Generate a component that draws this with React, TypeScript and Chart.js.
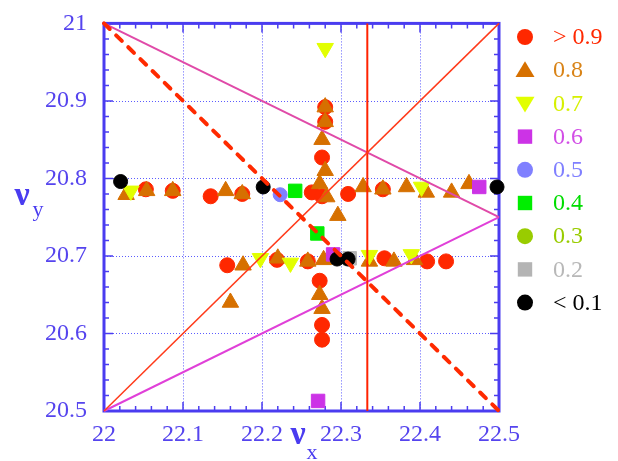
import React, { useEffect, useRef } from 'react';
import { Chart, registerables } from 'chart.js';

Chart.register(...registerables);

// ---- axis ticks ----
const xTicks = [22, 22.1, 22.2, 22.3, 22.4, 22.5];
const yTicks = [20.5, 20.6, 20.7, 20.8, 20.9, 21];

// ---- data series (nu_x, nu_y) by survival fraction ----
const redX = [22.053, 22.087, 22.135, 22.175, 22.263, 22.276, 22.309, 22.353, 22.28, 22.28, 22.276, 22.156, 22.219, 22.258, 22.273, 22.276, 22.276, 22.355, 22.409, 22.433];
const redY = [20.786, 20.784, 20.777, 20.78, 20.782, 20.777, 20.78, 20.786, 20.892, 20.873, 20.827, 20.688, 20.695, 20.693, 20.668, 20.611, 20.592, 20.697, 20.693, 20.693];

const orangeX = [22.028, 22.054, 22.087, 22.154, 22.175, 22.28, 22.28, 22.276, 22.28, 22.273, 22.282, 22.296, 22.328, 22.353, 22.383, 22.408, 22.44, 22.462, 22.16, 22.176, 22.22, 22.258, 22.278, 22.273, 22.276, 22.336, 22.367, 22.393];
const orangeY = [20.779, 20.784, 20.784, 20.784, 20.78, 20.892, 20.873, 20.85, 20.81, 20.793, 20.776, 20.752, 20.789, 20.786, 20.789, 20.782, 20.782, 20.793, 20.64, 20.688, 20.697, 20.693, 20.695, 20.65, 20.632, 20.693, 20.693, 20.695];

const yellowX = [22.034, 22.28, 22.198, 22.236, 22.336, 22.389, 22.402];
const yellowY = [20.784, 20.968, 20.697, 20.691, 20.701, 20.702, 20.789];

const purpleX = [22.475, 22.29, 22.271];
const purpleY = [20.789, 20.702, 20.513];

const blueX = [22.223];
const blueY = [20.779];

const greenX = [22.242, 22.27];
const greenY = [20.784, 20.729];

const oliveX: number[] = [];
const oliveY: number[] = [];

const grayX = [22.311];
const grayY = [20.697];

const blackX = [22.021, 22.2015, 22.4975, 22.295, 22.309];
const blackY = [20.796, 20.789, 20.789, 20.696, 20.696];

// ---- resonance lines ----
const diffLineX = [22, 22.5];
const diffLineY = [20.5, 21];
const sumLineX = [22, 22.5];
const sumLineY = [21, 20.5];
const thirdLineX = [22.3333, 22.3333];
const thirdLineY = [20.5, 21];
const magUpperX = [22, 22.5];
const magUpperY = [21, 20.75];
const magLowerX = [22, 22.5];
const magLowerY = [20.5, 20.75];

// ---- legend ----
const legendLabels = ['> 0.9', '0.8', '0.7', '0.6', '0.5', '0.4', '0.3', '0.2', '< 0.1'];
const legendColors = ['#ff2800', '#d67000', '#e2ff00', '#cc33e6', '#8080ff', '#00ee00', '#99cc00', '#b4b4b4', '#000000'];
const legendTextColors = ['#ff2800', '#d98418', '#d6f000', '#d24ee6', '#8080ff', '#00dd00', '#99cc00', '#b8b8b8', '#000000'];
const legendShapes = ['circle', 'triangle', 'down', 'square', 'circle', 'square', 'circle', 'square', 'circle'];

const AXIS_BLUE = '#4a3cf0';
const LABEL_BLUE = '#5544ee';
const GRID_BLUE = '#5c5cff';
const SERIF = "'Liberation Serif', 'Times New Roman', serif";

const pts = (xs: number[], ys: number[]) => xs.map((v, i) => ({ x: v, y: ys[i] }));

function drawMarker(ctx: CanvasRenderingContext2D, shape: string, x: number, y: number, r: number, color: string) {
  ctx.save();
  ctx.fillStyle = color;
  ctx.beginPath();
  if (shape === 'circle') {
    ctx.arc(x, y, r, 0, Math.PI * 2);
  } else if (shape === 'triangle' || shape === 'down') {
    const s = shape === 'down' ? -1 : 1;
    const h = r * 0.95;
    ctx.moveTo(x, y - s * h);
    ctx.lineTo(x + r, y + s * h * 0.75);
    ctx.lineTo(x - r, y + s * h * 0.75);
    ctx.closePath();
  } else {
    ctx.rect(x - r * 0.8, y - r * 0.8, r * 1.6, r * 1.6);
  }
  ctx.fill();
  ctx.restore();
}

const decorPlugin = {
  id: 'decor',
  beforeDatasetsDraw(chart: any) {
    const { ctx, chartArea: a, scales } = chart;
    const xs = scales.x;
    const ys = scales.y;
    ctx.save();
    // dotted grid
    ctx.strokeStyle = GRID_BLUE;
    ctx.lineWidth = 1;
    ctx.setLineDash([1, 2]);
    xTicks.slice(1, -1).forEach((v) => {
      const px = Math.round(xs.getPixelForValue(v)) + 0.5;
      ctx.beginPath();
      ctx.moveTo(px, a.top);
      ctx.lineTo(px, a.bottom);
      ctx.stroke();
    });
    yTicks.slice(1, -1).forEach((v) => {
      const py = Math.round(ys.getPixelForValue(v)) + 0.5;
      ctx.beginPath();
      ctx.moveTo(a.left, py);
      ctx.lineTo(a.right, py);
      ctx.stroke();
    });
    ctx.setLineDash([]);
    // inner ticks on all four sides
    ctx.strokeStyle = AXIS_BLUE;
    ctx.lineWidth = 1.5;
    for (let i = 0; i <= 25; i++) {
      const v = 22 + i * 0.02;
      const major = i % 5 === 0;
      const len = major ? 9 : 5;
      const px = xs.getPixelForValue(v);
      ctx.beginPath();
      ctx.moveTo(px, a.bottom);
      ctx.lineTo(px, a.bottom - len);
      ctx.moveTo(px, a.top);
      ctx.lineTo(px, a.top + len);
      ctx.stroke();
    }
    for (let i = 0; i <= 25; i++) {
      const v = 20.5 + i * 0.02;
      const major = i % 5 === 0;
      const len = major ? 9 : 5;
      const py = ys.getPixelForValue(v);
      ctx.beginPath();
      ctx.moveTo(a.left, py);
      ctx.lineTo(a.left + len, py);
      ctx.moveTo(a.right, py);
      ctx.lineTo(a.right - len, py);
      ctx.stroke();
    }
    // frame
    ctx.lineWidth = 3;
    ctx.strokeRect(a.left, a.top, a.right - a.left, a.bottom - a.top);
    ctx.restore();
  },
  afterDraw(chart: any) {
    const { ctx } = chart;
    ctx.save();
    // axis titles
    ctx.fillStyle = AXIS_BLUE;
    ctx.textBaseline = 'alphabetic';
    ctx.textAlign = 'center';
    ctx.font = `bold 34px ${SERIF}`;
    ctx.fillText('ν', 22, 205);
    ctx.font = `22px ${SERIF}`;
    ctx.fillText('y', 38, 216);
    ctx.font = `bold 34px ${SERIF}`;
    ctx.fillText('ν', 298, 444);
    ctx.font = `22px ${SERIF}`;
    ctx.fillText('x', 312, 459);
    // legend
    ctx.textAlign = 'left';
    ctx.textBaseline = 'middle';
    ctx.font = `24px ${SERIF}`;
    legendLabels.forEach((lab, i) => {
      const cy = 37 + i * 33.2;
      const shape = legendShapes[i];
      const r = shape === 'circle' ? 8 : shape === 'square' ? 9 : 9.5;
      drawMarker(ctx, shape, 525, cy, r, legendColors[i]);
      ctx.fillStyle = legendTextColors[i];
      ctx.fillText(lab, 553, cy + 1);
    });
    ctx.restore();
  },
};

export default function App() {
  const ref = useRef<HTMLCanvasElement>(null);
  useEffect(() => {
    const lineDs = (xs: number[], ys: number[], color: string, width: number, dash: number[] = []) => ({
      data: pts(xs, ys),
      showLine: true,
      borderColor: color,
      borderWidth: width,
      borderDash: dash,
      borderCapStyle: dash.length ? 'round' : 'butt',
      pointRadius: 0,
      fill: false,
      order: 0,
      clip: false,
    });
    const markDs = (xs: number[], ys: number[], color: string, style: string, r: number, order: number, rot = 0) => ({
      data: pts(xs, ys),
      showLine: false,
      backgroundColor: color,
      borderColor: color,
      borderWidth: 1,
      pointStyle: style,
      pointRotation: rot,
      pointRadius: r,
      order,
      clip: false,
    });
    const chart = new Chart(ref.current as HTMLCanvasElement, {
      type: 'scatter',
      data: {
        datasets: [
          lineDs(sumLineX, sumLineY, '#ff2a00', 4, [8, 9]),
          lineDs(diffLineX, diffLineY, '#ff3a1a', 1.5),
          lineDs(thirdLineX, thirdLineY, '#ff2200', 2),
          lineDs(magUpperX, magUpperY, '#e04aa8', 2),
          lineDs(magLowerX, magLowerY, '#e040d8', 2),
          markDs(blackX, blackY, '#000000', 'circle', 7, 1),
          markDs(grayX, grayY, '#b4b4b4', 'rect', 9.5, 2),
          markDs(oliveX, oliveY, '#99cc00', 'circle', 7, 3),
          markDs(greenX, greenY, '#00ee00', 'rect', 9.5, 4),
          markDs(blueX, blueY, '#8080ff', 'circle', 7, 5),
          markDs(purpleX, purpleY, '#cc33e6', 'rect', 9.5, 6),
          markDs(yellowX, yellowY, '#e2ff00', 'triangle', 9.5, 7, 180),
          markDs(orangeX, orangeY, '#d67000', 'triangle', 9.5, 8),
          markDs(redX, redY, '#ff2800', 'circle', 7.5, 9),
        ] as any,
      },
      options: {
        responsive: false,
        animation: false,
        events: [],
        layout: { padding: { top: 18, right: 119, left: 0, bottom: 0 } },
        plugins: { legend: { display: false }, tooltip: { enabled: false } },
        scales: {
          x: {
            type: 'linear',
            min: 22,
            max: 22.5,
            grid: { display: false },
            border: { display: false },
            afterBuildTicks: (s: any) => {
              s.ticks = xTicks.map((v) => ({ value: v }));
            },
            afterFit: (s: any) => {
              s.height = 50;
            },
            ticks: {
              color: LABEL_BLUE,
              font: { family: SERIF, size: 24 },
              padding: 1,
              maxRotation: 0,
              autoSkip: false,
              callback: (v: any) => String(Math.round(Number(v) * 10) / 10),
            },
          },
          y: {
            type: 'linear',
            min: 20.5,
            max: 21,
            grid: { display: false },
            border: { display: false },
            afterBuildTicks: (s: any) => {
              s.ticks = yTicks.map((v) => ({ value: v }));
            },
            afterFit: (s: any) => {
              s.width = 104;
            },
            ticks: {
              color: LABEL_BLUE,
              font: { family: SERIF, size: 24 },
              padding: 9,
              autoSkip: false,
              callback: (v: any) => String(Math.round(Number(v) * 10) / 10),
            },
          },
        },
      },
      plugins: [decorPlugin],
    } as any);
    return () => chart.destroy();
  }, []);
  return (
    <div style={{ position: 'absolute', left: 0, top: 0, width: 618, height: 461, background: '#ffffff' }}>
      <canvas ref={ref} width={618} height={461} style={{ display: 'block', width: 618, height: 461 }} />
    </div>
  );
}
